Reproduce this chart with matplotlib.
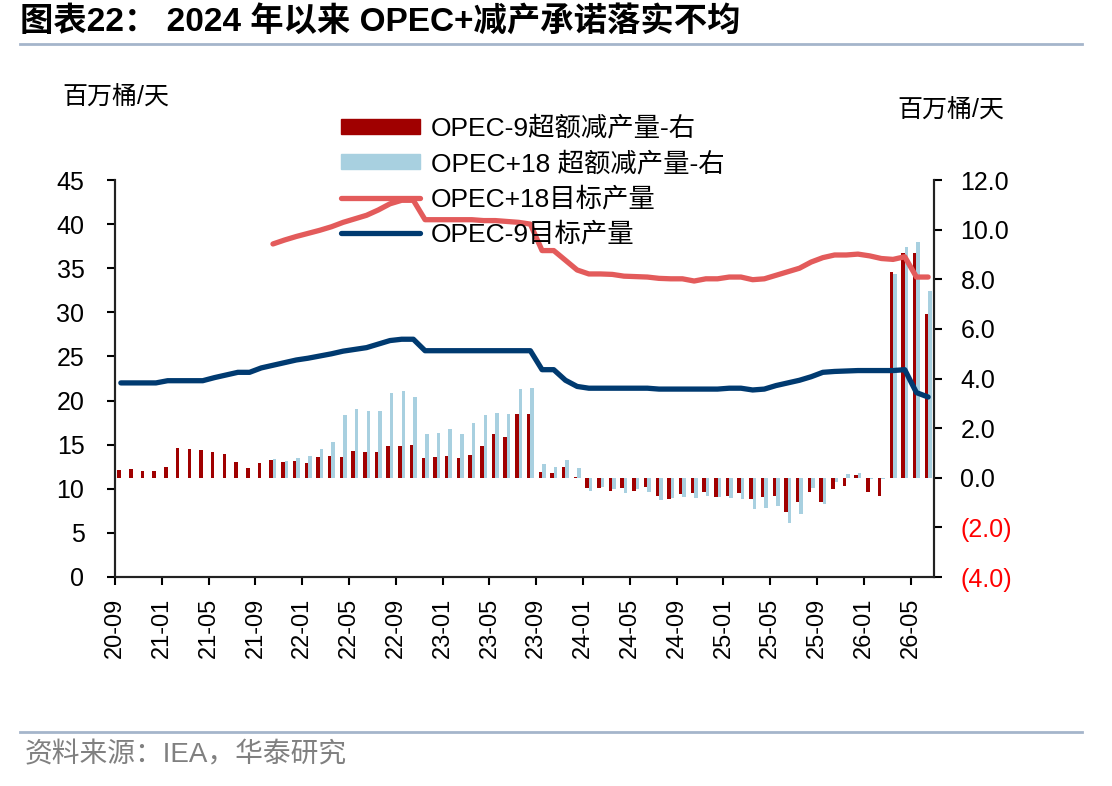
import numpy as np
import matplotlib.pyplot as plt
from matplotlib.patches import Patch
from matplotlib.lines import Line2D

plt.rcParams['font.family'] = ['Liberation Sans', 'Noto Sans CJK SC']
plt.rcParams['axes.unicode_minus'] = False

# monthly, 2020-09 .. 2026-06
tick_labels = ["20-09", "21-01", "21-05", "21-09", "22-01", "22-05", "22-09", "23-01", "23-05",
               "23-09", "24-01", "24-05", "24-09", "25-01", "25-05", "25-09", "26-01", "26-05"]

# OPEC-9 target output (left axis, mb/d)
opec9_target = [22.0, 22.0, 22.0, 22.0, 22.25, 22.25, 22.25, 22.25, 22.6, 22.9,
                23.2, 23.2, 23.7, 24.0, 24.3, 24.6, 24.8, 25.05, 25.3, 25.6,
                25.8, 26.0, 26.4, 26.8, 26.95, 26.95, 25.65, 25.65, 25.65, 25.65,
                25.65, 25.65, 25.65, 25.65, 25.65, 25.65, 23.5, 23.5, 22.3, 21.6,
                21.4, 21.4, 21.4, 21.4, 21.4, 21.4, 21.3, 21.3, 21.3, 21.3,
                21.3, 21.3, 21.4, 21.4, 21.2, 21.3, 21.7, 22.0, 22.3, 22.7,
                23.2, 23.3, 23.35, 23.4, 23.4, 23.4, 23.4, 23.5, 20.9, 20.4]

# OPEC+18 target output (left axis, mb/d)
opec18_target = [None, None, None, None, None, None, None, None, None, None,
                 None, None, None, 37.75, 38.2, 38.6, 38.95, 39.3, 39.7, 40.2,
                 40.6, 41.0, 41.6, 42.3, 42.7, 42.7, 40.5, 40.5, 40.5, 40.5,
                 40.5, 40.4, 40.4, 40.3, 40.2, 40.0, 37.0, 37.0, 35.9, 34.8,
                 34.35, 34.35, 34.3, 34.1, 34.05, 34.0, 33.85, 33.8, 33.8, 33.55,
                 33.8, 33.8, 34.0, 34.0, 33.7, 33.8, 34.2, 34.6, 35.0, 35.7,
                 36.2, 36.5, 36.5, 36.6, 36.4, 36.1, 36.0, 36.3, 34.0, 34.0]

# OPEC-9 excess cut (right axis, mb/d)
opec9_cut = [0.31, 0.34, 0.26, 0.26, 0.42, 1.18, 1.14, 1.12, 1.04, 0.94,
             0.62, 0.38, 0.59, 0.70, 0.65, 0.67, 0.58, 0.82, 0.88, 0.82,
             1.07, 1.02, 1.04, 1.28, 1.26, 1.32, 0.81, 0.85, 0.88, 0.79,
             0.91, 1.26, 1.76, 1.66, 2.56, 2.57, 0.25, 0.18, 0.45, 0.05,
             -0.42, -0.42, -0.52, -0.42, -0.53, -0.36, -0.72, -0.87, -0.66, -0.60,
             -0.56, -0.79, -0.72, -0.60, -0.87, -0.76, -0.72, -1.39, -0.96, -0.56,
             -0.99, -0.47, -0.33, 0.11, -0.56, -0.72, 8.31, 9.05, 9.07, 6.60]

# OPEC+18 excess cut (right axis, mb/d)
opec18_cut = [None, None, None, None, None, None, None, None, None, None,
              None, None, None, 0.74, 0.67, 0.80, 0.86, 1.16, 1.44, 2.52,
              2.77, 2.70, 2.70, 3.41, 3.48, 3.24, 1.75, 1.79, 1.96, 1.75,
              2.19, 2.53, 2.60, 2.57, 3.59, 3.62, 0.56, 0.42, 0.72, 0.40,
              -0.52, -0.38, -0.47, -0.60, -0.47, -0.56, -0.90, -0.83, -0.79, -0.80,
              -0.72, -0.76, -0.83, -0.86, -1.27, -1.23, -1.13, -1.84, -1.46, -0.43,
              -1.06, -0.16, 0.15, 0.18, -0.06, -0.06, 8.20, 9.29, 9.52, 7.53]

c_bar9 = "#A00000"
c_bar18 = "#A8D0E0"
c_line18 = "#E35B5B"
c_line9 = "#003A70"

n = len(opec9_cut)
x = np.arange(n) + 0.5

fig = plt.figure(figsize=(11.12, 7.86), dpi=100)
ax = fig.add_axes([115/1112, 1-577/786, (934-115)/1112, (577-180)/786])
ax2 = ax.twinx()
ax.set_zorder(ax2.get_zorder() + 1)
ax.patch.set_visible(False)

ax2.bar(x - 0.15, opec9_cut, width=0.3, color=c_bar9)
ax2.bar(x + 0.15, np.array(opec18_cut, dtype=float), width=0.3, color=c_bar18)

ax.plot(x, opec18_target, color=c_line18, lw=3.8, solid_capstyle='round', solid_joinstyle='round')
ax.plot(x, opec9_target, color=c_line9, lw=3.8, solid_capstyle='round', solid_joinstyle='round')

ax.set_xlim(0, n)
ax.set_ylim(0, 45)
ax.set_yticks(range(0, 46, 5))
ax2.set_ylim(-4, 12)
rt = [-4, -2, 0, 2, 4, 6, 8, 10, 12]
ax2.set_yticks(rt)
ax2.set_yticklabels([f"({abs(v):.1f})" if v < 0 else f"{v:.1f}" for v in rt])
for lab, v in zip(ax2.get_yticklabels(), rt):
    if v < 0:
        lab.set_color("#FF0000")

ax.set_xticks(np.arange(0, n, 4))
ax.set_xticklabels(tick_labels, rotation=90)

for a in (ax, ax2):
    a.spines['top'].set_visible(False)
    for s in a.spines.values():
        s.set_linewidth(1.5)
        s.set_color("#222222")
ax.tick_params(axis='y', direction='out', length=6, width=1.5, pad=16, labelsize=18)
ax2.tick_params(axis='y', direction='out', length=6, width=1.5, pad=13, labelsize=18)
ax.tick_params(axis='x', direction='out', length=6, width=1.5, pad=9, labelsize=17)

handles = [Patch(color=c_bar9), Patch(color=c_bar18),
           Line2D([], [], color=c_line18, lw=3.8, solid_capstyle='round'),
           Line2D([], [], color=c_line9, lw=3.8, solid_capstyle='round')]
labels = ["OPEC-9超额减产量-右", "OPEC+18 超额减产量-右", "OPEC+18目标产量", "OPEC-9目标产量"]
fig.legend(handles, labels, loc='upper left', bbox_to_anchor=(341/1112, 1-116/786),
           frameon=False, fontsize=19, handlelength=3.0, handleheight=0.5,
           handletextpad=0.4, labelspacing=0.4, borderpad=0, borderaxespad=0)

fig.text(62/1112, 1-98/786, "百万桶/天", fontsize=18, va='center', ha='left')
fig.text(897/1112, 1-111/786, "百万桶/天", fontsize=18, va='center', ha='left')

fig.text(20/1112, 1-22/786, "图表22： 2024 年以来 OPEC+减产承诺落实不均", fontsize=24,
         fontweight='bold', va='center', ha='left')
fig.add_artist(Line2D([20/1112, 1082/1112], [1-44/786, 1-44/786], color="#A5B5CB", lw=2))
fig.add_artist(Line2D([20/1112, 1082/1112], [1-732/786, 1-732/786], color="#A5B5CB", lw=2))
fig.text(25/1112, 1-755/786, "资料来源：IEA，华泰研究", fontsize=20, color="#808080",
         va='center', ha='left')

fig.savefig("out.png", dpi=100)
